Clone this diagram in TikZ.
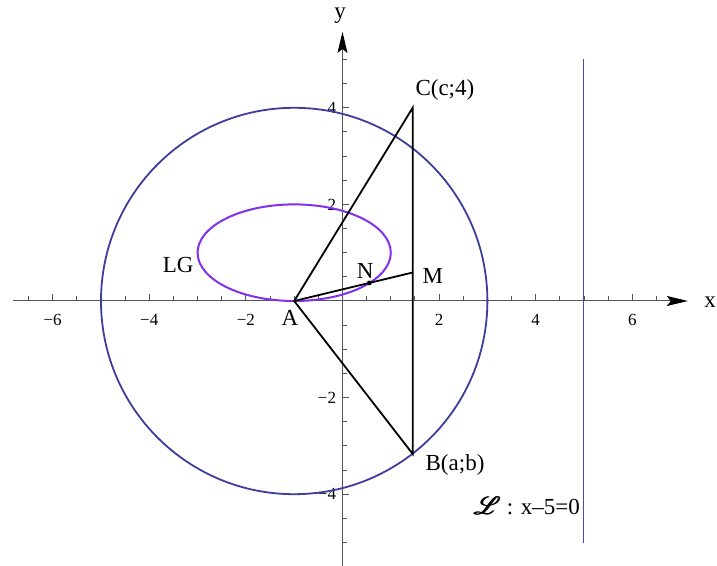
\documentclass[tikz,border=0pt]{standalone}
\usepackage{fontspec}
\setmainfont{Liberation Serif}
\usepackage{mathrsfs}
\usetikzlibrary{arrows.meta}
\definecolor{circblue}{HTML}{3D3D9E}
\definecolor{ellpurple}{HTML}{8030EE}
\definecolor{lineblue}{HTML}{4A4AA8}
\definecolor{axisgray}{HTML}{555555}
\newcommand{\myboldL}{{\fontsize{26}{30}\selectfont\rlap{$\mathscr{L}$}\hspace{0.7pt}\rlap{$\mathscr{L}$}\hspace{0.7pt}$\mathscr{L}$}}
\begin{document}
\begin{tikzpicture}[x=48.3pt,y=48.3pt,
  axisline/.style={draw=axisgray, line width=1pt, -{Stealth[length=21pt,width=10pt,inset=4pt,color=black]}},
  tickline/.style={draw=axisgray, line width=0.9pt},
  ticklbl/.style={font=\fontsize{17}{20}\selectfont, inner sep=0pt},
  lbl/.style={font=\fontsize{23}{27}\selectfont, inner sep=0pt},
  circ/.style={draw=circblue, line width=1.8pt},
  ell/.style={draw=ellpurple, line width=2pt},
  lline/.style={draw=lineblue, line width=1.0pt},
  tri/.style={draw=black, line width=1.8pt}]
\useasboundingbox (-7.091,-5.466) rectangle (7.754,6.232);
% axes
\coordinate (xs) at (-6.82,0);
\coordinate (xe) at (7.15,0);
\coordinate (ys) at (0,-5.6);
\coordinate (ye) at (0,5.57);
\draw[axisline] (xs) -- (xe);
\draw[axisline] (ys) -- (ye);
% ticks
\foreach \t in {-6.5,-5.5,-5,-4.5,-3.5,-3,-2.5,-1.5,-1,-0.5,0.5,1,1.5,2.5,3,3.5,4.5,5,5.5,6.5}
  \draw[tickline] (\t,0) -- ++(0,0.095);
\foreach \t in {-6,-4,-2,2,4,6}
  \draw[tickline] (\t,0) -- ++(0,0.145);
\foreach \t in {-5,-4.5,-3.5,-3,-2.5,-1.5,-1,-0.5,0.5,1,1.5,2.5,3,3.5,4.5,5}
  \draw[tickline] (0,\t) -- ++(0.095,0);
\foreach \t in {-4,-2,2,4}
  \draw[tickline] (0,\t) -- ++(0.145,0);
% tick labels
\node[ticklbl] (tx1) at (-6,-0.40) {−6};
\node[ticklbl] (tx2) at (-4,-0.40) {−4};
\node[ticklbl] (tx3) at (-2,-0.40) {−2};
\node[ticklbl] (tx4) at (2,-0.40) {2};
\node[ticklbl] (tx5) at (4,-0.40) {4};
\node[ticklbl] (tx6) at (6,-0.40) {6};
\node[ticklbl, anchor=east] (ty1) at (-0.13,4) {4};
\node[ticklbl, anchor=east] (ty2) at (-0.13,2) {2};
\node[ticklbl, anchor=east] (ty3) at (-0.13,-2) {−2};
\node[ticklbl, anchor=east] (ty4) at (-0.13,-4) {−4};
% axis labels
\node[lbl] (xlab) at (7.61,-0.02) {x};
\node[lbl] (ylab) at (-0.05,5.90) {y};
% curves
\draw[circ] (-1,0) circle (4);
\draw[ell] (-1,1) ellipse [x radius=2, y radius=1];
\coordinate (L1) at (5,-5);
\coordinate (L2) at (5,5);
\draw[lline] (L1) -- (L2);
% points
\coordinate (A) at (-1,0);
\coordinate (C) at (1.453,4);
\coordinate (B) at (1.453,-3.165);
\coordinate (M) at (1.453,0.59);
\coordinate (N) at (0.556,0.374);
\draw[tri] (A) -- (C) -- (B) -- cycle;
\draw[tri] (A) -- (M);
\fill (N) circle (2.4pt);
% labels
\node[lbl] (Clab) at (2.12,4.37) {C(c;4)};
\node[lbl] (Blab) at (2.33,-3.40) {B(a;b)};
\node[lbl] (Mlab) at (1.87,0.52) {M};
\node[lbl] (Nlab) at (0.47,0.62) {N};
\node[lbl] (Alab) at (-1.09,-0.36) {A};
\node[lbl] (LGlab) at (-3.40,0.75) {LG};
\node[lbl] (Llab) at (3.81,-4.24) {\myboldL\ : x–5=0};
\end{tikzpicture}
\end{document}
